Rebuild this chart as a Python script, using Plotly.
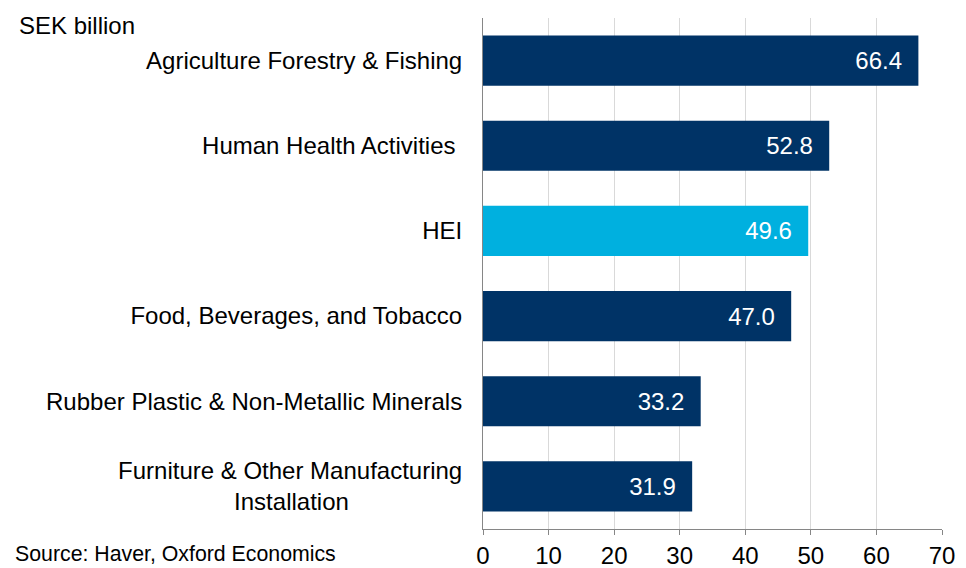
import plotly.graph_objects as go

# data (top to bottom)
categories = ['Agriculture Forestry & Fishing',
              'Human Health Activities ',
              'HEI',
              'Food, Beverages, and Tobacco',
              'Rubber Plastic & Non-Metallic Minerals',
              'Furniture & Other Manufacturing<br>Installation' + '\u00a0' * 17]
values = [66.4, 52.8, 49.6, 47.0, 33.2, 31.9]
highlight = 'HEI'
x_ticks = [0, 10, 20, 30, 40, 50, 60, 70]

NAVY = '#003366'
LIGHT = '#00B0DF'
FONT = 'Liberation Sans, Arial, sans-serif'
colors = [LIGHT if c == highlight else NAVY for c in categories]

fig = go.Figure()
fig.add_trace(go.Bar(
    x=values, y=categories, orientation='h',
    marker=dict(color=colors, line=dict(width=0)),
    text=[f'{v:.1f}' + '\u00a0\u00a0' for v in values],
    textposition='inside', insidetextanchor='end',
    textfont=dict(color='white', size=24, family=FONT),
    hovertemplate='%{y}: %{x:.1f}<extra></extra>',
))

# page body adds an 8px offset, so the figure is 8px smaller on each axis
fig.update_layout(
    width=958, height=560,
    margin=dict(l=475, r=24, t=10, b=39, autoexpand=False),
    paper_bgcolor='white', plot_bgcolor='white',
    bargap=0.41,
    showlegend=False,
    font=dict(family=FONT, size=24, color='black'),
    xaxis=dict(
        range=[0, 70], tickvals=x_ticks, ticktext=[str(t) for t in x_ticks],
        showgrid=True, gridcolor='#D9D9D9', gridwidth=1,
        zeroline=False, showline=True, linecolor='#868686', linewidth=1,
        ticks='outside', ticklen=5, tickcolor='#868686',
        tickfont=dict(size=24), automargin=False,
    ),
    yaxis=dict(
        categoryorder='array', categoryarray=categories, autorange='reversed',
        showgrid=False, zeroline=False,
        showline=True, linecolor='#868686', linewidth=1,
        ticks='', ticklabelstandoff=15,
        tickfont=dict(size=24), automargin=False,
    ),
    annotations=[
        dict(text='SEK billion', xref='paper', yref='paper', x=-1.015, y=0.986,
             xanchor='left', yanchor='middle', showarrow=False,
             font=dict(size=24)),
        dict(text='Source: Haver, Oxford Economics', xref='paper', yref='paper',
             x=-1.024, y=-0.049, xanchor='left', yanchor='middle', showarrow=False,
             font=dict(size=21.3)),
    ],
)

fig.write_html('out.html')
